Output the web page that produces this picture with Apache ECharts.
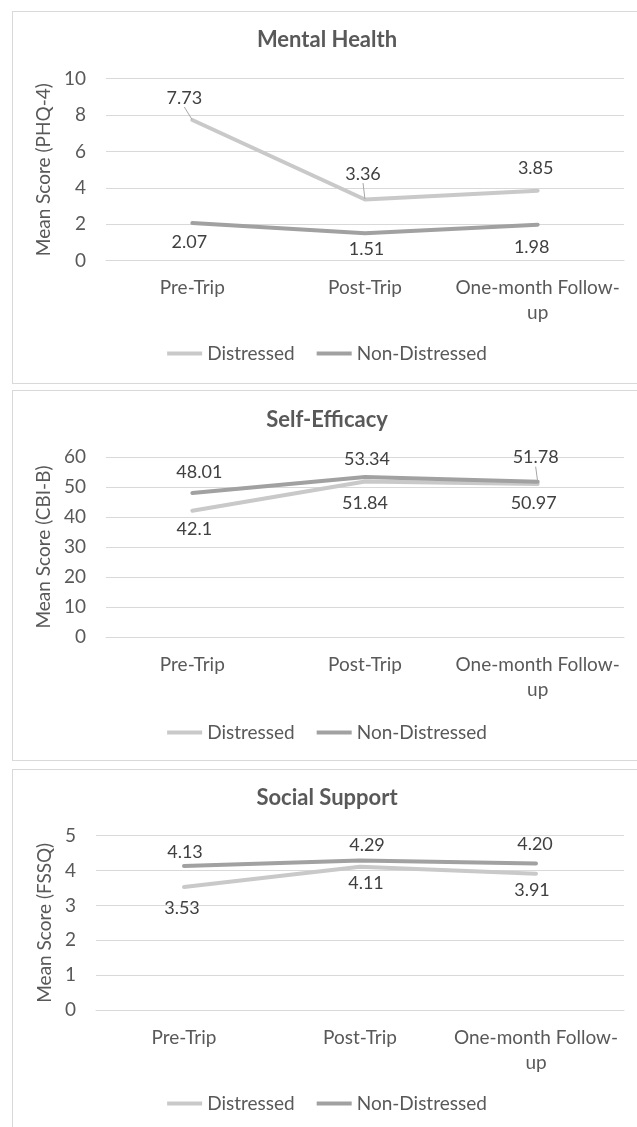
<!DOCTYPE html>
<html>
<head>
<meta charset="utf-8">
<script src="https://cdn.jsdelivr.net/npm/echarts@6/dist/echarts.min.js"></script>
<style>
  html, body { margin: 0; padding: 0; background: #fff; overflow: hidden; width: 637px; height: 1127px; }
  .frame { position: absolute; left: 12px; width: 660px; border: 1px solid #D9D9D9; box-sizing: border-box; }
  .chart { position: absolute; left: 0; width: 654px; }
</style>
</head>
<body>
<div class="frame" style="top:11px;height:373px"></div>
<div class="frame" style="top:390px;height:371px"></div>
<div class="frame" style="top:769px;height:372px"></div>
<div id="c1" class="chart" style="top:11px;height:372px"></div>
<div id="c2" class="chart" style="top:390px;height:370px"></div>
<div id="c3" class="chart" style="top:769px;height:372px"></div>
<script>
// Categories and series names shared by all three panels
const categories = ['Pre-Trip', 'Post-Trip', 'One-month Follow-up'];
const seriesNames = ['Distressed', 'Non-Distressed'];

// Mental Health (PHQ-4)
const mentalDistressed = [7.73, 3.36, 3.85];
const mentalNonDistressed = [2.07, 1.51, 1.98];
const mentalAxis = { min: 0, max: 10, interval: 2 };

// Self-Efficacy (CBI-B)
const efficacyDistressed = [42.1, 51.84, 50.97];
const efficacyNonDistressed = [48.01, 53.34, 51.78];
const efficacyAxis = { min: 0, max: 60, interval: 10 };

// Social Support (FSSQ)
const supportDistressed = [3.53, 4.11, 3.91];
const supportNonDistressed = [4.13, 4.29, 4.20];
const supportAxis = { min: 0, max: 5, interval: 1 };

const FONT = 'Lato, "Open Sans", sans-serif';
const TEXT = '#595959';
const LABEL = '#404040';
const GRIDLINE = '#D9D9D9';
const COLORS = ['#C9C9C9', '#A1A1A1'];
const AXIS_FONT = 19;
const VALUE_FONT = 18;

function makeSeries(name, values, color, offsets, leaders, decimals) {
  return {
    name: name,
    type: 'line',
    data: values.map(function (v, i) {
      const item = { value: v };
      if (leaders.indexOf(i) >= 0) item.labelLine = { show: true };
      return item;
    }),
    symbol: 'circle',
    symbolSize: 1,
    itemStyle: { color: color },
    lineStyle: { color: color, width: 4, cap: 'round', join: 'round' },
    label: {
      show: true,
      position: 'inside',
      fontFamily: FONT,
      fontSize: VALUE_FONT,
      color: LABEL,
      formatter: function (p) { return decimals ? p.value.toFixed(decimals) : String(p.value); }
    },
    labelLayout: function (p) {
      const o = offsets[p.dataIndex];
      return { dx: o[0], dy: o[1] };
    },
    labelLine: { show: false, lineStyle: { color: '#A6A6A6', width: 1 } },
    emphasis: { disabled: true },
    animation: false
  };
}

function buildOption(cfg) {
  return {
    animation: false,
    title: {
      text: cfg.title, left: 'center', top: cfg.titleTop, padding: 0,
      textStyle: { fontFamily: FONT, fontSize: 22, fontWeight: 'bold', color: TEXT }
    },
    legend: {
      data: seriesNames, left: 'center', top: cfg.legendTop, padding: 0,
      icon: 'rect', itemWidth: 35, itemHeight: 4, itemGap: 22,
      textStyle: { fontFamily: FONT, fontSize: AXIS_FONT, color: TEXT }
    },
    grid: {
      left: cfg.gridLeft, right: 30, top: cfg.gridTop, height: cfg.gridHeight,
      containLabel: false, outerBoundsMode: 'none'
    },
    xAxis: {
      type: 'category', data: categories, boundaryGap: true,
      axisTick: { show: false },
      axisLine: { show: true, lineStyle: { color: GRIDLINE, width: 1 } },
      splitLine: { show: false },
      axisLabel: {
        margin: 15, lineHeight: 25, fontFamily: FONT, fontSize: AXIS_FONT, color: TEXT, interval: 0,
        formatter: function (v) { return v.replace('Follow-up', 'Follow-\nup'); }
      }
    },
    yAxis: {
      type: 'value', min: cfg.axis.min, max: cfg.axis.max, interval: cfg.axis.interval,
      name: cfg.yName, nameLocation: 'middle', nameRotate: 90, nameGap: cfg.nameGap,
      nameTextStyle: { fontFamily: FONT, fontSize: AXIS_FONT, color: TEXT },
      axisLine: { show: false }, axisTick: { show: false },
      splitLine: { show: true, lineStyle: { color: GRIDLINE, width: 1 } },
      axisLabel: { margin: 20, fontFamily: FONT, fontSize: AXIS_FONT, color: TEXT }
    },
    series: [
      makeSeries(seriesNames[0], cfg.distressed, COLORS[0], cfg.offsets[0], cfg.leaders[0], cfg.decimals),
      makeSeries(seriesNames[1], cfg.nonDistressed, COLORS[1], cfg.offsets[1], cfg.leaders[1], cfg.decimals)
    ]
  };
}

const panels = [
  {
    el: 'c1', title: 'Mental Health', yName: 'Mean Score (PHQ-4)', axis: mentalAxis,
    distressed: mentalDistressed, nonDistressed: mentalNonDistressed,
    titleTop: 18, legendTop: 333, gridLeft: 106, gridTop: 67.7, gridHeight: 182, nameGap: 51,
    offsets: [[[-8, -22], [-2, -25.5], [-2, -22]], [[-3, 19], [1.5, 16], [-6, 22.6]]],
    leaders: [[0, 1], []], decimals: 0
  },
  {
    el: 'c2', title: 'Self-Efficacy', yName: 'Mean Score (CBI-B)', axis: efficacyAxis,
    distressed: efficacyDistressed, nonDistressed: efficacyNonDistressed,
    titleTop: 19, legendTop: 333, gridLeft: 106, gridTop: 67, gridHeight: 180, nameGap: 51,
    offsets: [[[2, 18], [0, 22], [-4, 19]], [[7, -21], [2, -18], [-2, -24]]],
    leaders: [[], [2]], decimals: 0
  },
  {
    el: 'c3', title: 'Social Support', yName: 'Mean Score (FSSQ)', axis: supportAxis,
    distressed: supportDistressed, nonDistressed: supportNonDistressed,
    titleTop: 18, legendTop: 325, gridLeft: 96, gridTop: 66.7, gridHeight: 174.3, nameGap: 41,
    offsets: [[[-2, 21], [6, 16.6], [-4, 16]], [[1, -14], [7, -15.5], [-1, -19]]],
    leaders: [[], []], decimals: 2
  }
];

panels.forEach(function (cfg) {
  const chart = echarts.init(document.getElementById(cfg.el), null, { renderer: 'canvas' });
  chart.setOption(buildOption(cfg));
});
</script>
</body>
</html>
